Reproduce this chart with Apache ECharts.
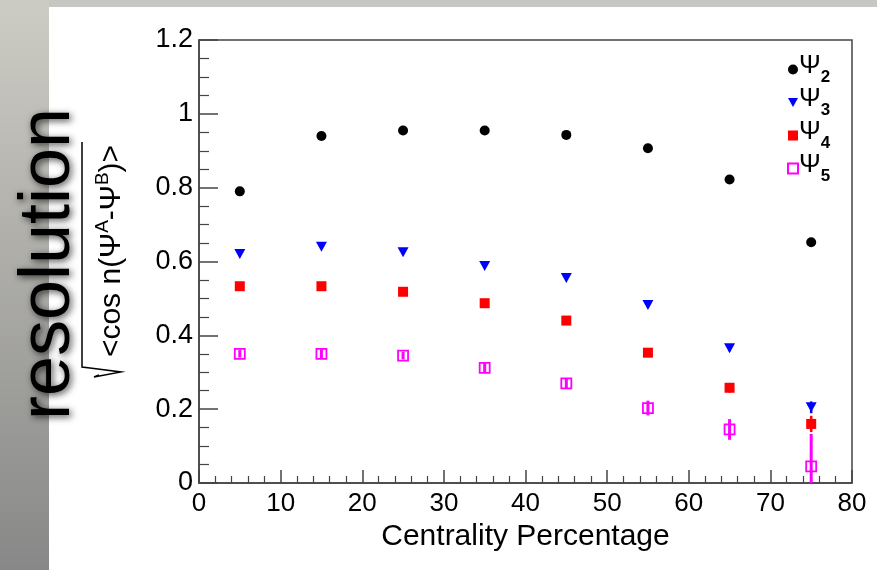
<!DOCTYPE html>
<html>
<head>
<meta charset="utf-8">
<script src="https://cdn.jsdelivr.net/npm/echarts@6/dist/echarts.min.js"></script>
<style>
html, body { margin: 0; padding: 0; }
#chart { width: 877px; height: 570px; }
</style>
</head>
<body>
<div id="chart"></div>
<script>
// centrality bins (bin centres)
const centrality = [5, 15, 25, 35, 45, 55, 65, 75];

// resolution values
const psi2 = [0.790, 0.940, 0.955, 0.955, 0.943, 0.907, 0.822, 0.652];
const psi3 = [0.620, 0.640, 0.625, 0.588, 0.555, 0.482, 0.365, 0.205];
const psi4 = [0.533, 0.533, 0.518, 0.487, 0.440, 0.353, 0.258, 0.160];
const psi5 = [0.350, 0.350, 0.345, 0.312, 0.270, 0.203, 0.145, 0.045];

// errors
const err2 = [0.003, 0.003, 0.003, 0.003, 0.003, 0.004, 0.005, 0.008];
const err3 = [0.004, 0.004, 0.004, 0.005, 0.005, 0.006, 0.008, 0.016];
const err4 = [0.005, 0.005, 0.005, 0.006, 0.007, 0.009, 0.013, 0.022];
const err5 = [0.010, 0.012, 0.010, 0.013, 0.014, 0.020, 0.028, 0.088];

const names = ['psi2', 'psi3', 'psi4', 'psi5'];
const subs = ['2', '3', '4', '5'];

const triDown = 'path://M0,0L10,0L5,9Z';
const FONT = 'Liberation Sans, Arial, Helvetica, sans-serif';

function points(vals) {
    return centrality.map((c, i) => [c, vals[i]]);
}

function errorBars(id, vals, errs, color, width) {
    return {
        type: 'custom',
        name: id,
        silent: true,
        clip: true,
        z: 1,
        data: centrality.map((c, i) => [c, vals[i] - errs[i], vals[i] + errs[i]]),
        renderItem: (params, api) => {
            let lo = api.coord([api.value(0), api.value(1)]);
            let hi = api.coord([api.value(0), api.value(2)]);
            return {
                type: 'line',
                shape: { x1: lo[0], y1: lo[1], x2: hi[0], y2: hi[1] },
                style: { stroke: color, lineWidth: width }
            };
        }
    };
}

let chart = echarts.init(document.getElementById('chart'));

let option = {
    animation: false,
    textStyle: { fontFamily: FONT },
    grid: {
        left: 199, right: 25, top: 40, bottom: 87,
        show: true,
        borderColor: '#444',
        borderWidth: 1.5,
        backgroundColor: 'transparent'
    },
    graphic: [
        {
            type: 'rect', z: -10, silent: true,
            shape: { x: 0, y: 0, width: 877, height: 570 },
            style: {
                fill: new echarts.graphic.LinearGradient(0, 0, 0, 1, [
                    { offset: 0, color: '#cdccc4' },
                    { offset: 1, color: '#888888' }
                ])
            }
        },
        {
            type: 'rect', z: -10, silent: true,
            shape: { x: 49, y: 0, width: 828, height: 7 },
            style: { fill: '#c6c6c2' }
        },
        {
            type: 'rect', z: -9, silent: true,
            shape: { x: 49, y: 7, width: 828, height: 563 },
            style: { fill: '#ffffff' }
        },
        {
            type: 'text', z: 10, silent: true,
            x: 49, y: 264, rotation: Math.PI / 2,
            style: {
                text: 'resolution',
                font: '72px ' + FONT,
                fill: '#000',
                align: 'center',
                verticalAlign: 'middle',
                textShadowColor: 'rgba(0,0,0,0.7)',
                textShadowBlur: 7,
                textShadowOffsetX: 2,
                textShadowOffsetY: 2
            }
        },
        {
            type: 'text', z: 10, silent: true,
            x: 110, y: 251, rotation: Math.PI / 2,
            style: {
                text: '{m|<cos n(Ψ}{s|A}{m|-Ψ}{s|B}{m|)>}',
                align: 'center',
                verticalAlign: 'middle',
                fill: '#000',
                rich: {
                    m: { fontSize: 30, fontFamily: FONT, lineHeight: 34, verticalAlign: 'bottom' },
                    s: { fontSize: 19, fontFamily: FONT, lineHeight: 34, verticalAlign: 'top' }
                }
            }
        },
        {
            type: 'polyline', z: 10, silent: true,
            shape: { points: [[82, 142], [82, 367], [90, 368], [121, 372], [94, 377], [99, 375]] },
            style: { stroke: '#000', lineWidth: 1.5, fill: null }
        }
    ],
    legend: {
        orient: 'vertical',
        left: 787,
        top: 53,
        itemGap: 0,
        itemWidth: 10,
        itemHeight: 10,
        padding: 0,
        selectedMode: false,
        data: names,
        formatter: (n) => '{p|Ψ}{s|' + subs[names.indexOf(n)] + '}{h| }',
        textStyle: {
            color: '#000',
            padding: [0, 0, 0, -4],
            rich: {
                p: { fontSize: 26, fontFamily: FONT, lineHeight: 19, verticalAlign: 'top' },
                s: { fontSize: 17, fontFamily: FONT, fontWeight: 'bold', lineHeight: 16, verticalAlign: 'bottom' },
                h: { fontSize: 2, lineHeight: 33, verticalAlign: 'middle' }
            }
        }
    },
    xAxis: {
        type: 'value',
        min: 0, max: 80, interval: 10,
        name: 'Centrality Percentage',
        nameLocation: 'middle',
        nameGap: 36,
        nameTextStyle: { fontSize: 30, color: '#000', fontFamily: FONT },
        axisLine: { lineStyle: { color: '#444', width: 1.5 } },
        axisTick: { inside: true, length: 13, lineStyle: { color: '#444', width: 1.5 } },
        minorTick: { show: true, splitNumber: 5, length: 7, lineStyle: { color: '#444', width: 1.2 } },
        splitLine: { show: false },
        axisLabel: { fontSize: 26, color: '#000', margin: 8, fontFamily: FONT }
    },
    yAxis: {
        type: 'value',
        min: 0, max: 1.2, interval: 0.2,
        axisLine: { show: true, lineStyle: { color: '#444', width: 1.5 } },
        axisTick: { show: true, inside: true, length: 19, lineStyle: { color: '#444', width: 1.5 } },
        minorTick: { show: true, splitNumber: 4, length: 10, lineStyle: { color: '#444', width: 1.2 } },
        splitLine: { show: false },
        axisLabel: { fontSize: 27, color: '#000', margin: 6, fontFamily: FONT }
    },
    series: [
        errorBars('e2', psi2, err2, '#000', 2),
        errorBars('e3', psi3, err3, '#0000ff', 2.5),
        errorBars('e4', psi4, err4, '#ff0000', 2.5),
        errorBars('e5', psi5, err5, '#ff00ff', 3),
        {
            name: 'psi2', type: 'scatter', z: 3,
            symbol: 'circle', symbolSize: 10,
            itemStyle: { color: '#000', opacity: 1 },
            data: points(psi2)
        },
        {
            name: 'psi3', type: 'scatter', z: 3,
            symbol: triDown, symbolSize: [11, 10],
            itemStyle: { color: '#0000ff', opacity: 1 },
            data: points(psi3)
        },
        {
            name: 'psi4', type: 'scatter', z: 3,
            symbol: 'rect', symbolSize: 10,
            itemStyle: { color: '#ff0000', opacity: 1 },
            data: points(psi4)
        },
        {
            name: 'psi5', type: 'scatter', z: 3,
            symbol: 'rect', symbolSize: 10,
            itemStyle: { color: 'rgba(255,255,255,0)', borderColor: '#ff00ff', borderWidth: 1.8, opacity: 1 },
            data: points(psi5)
        }
    ]
};

chart.setOption(option);
</script>
</body>
</html>
